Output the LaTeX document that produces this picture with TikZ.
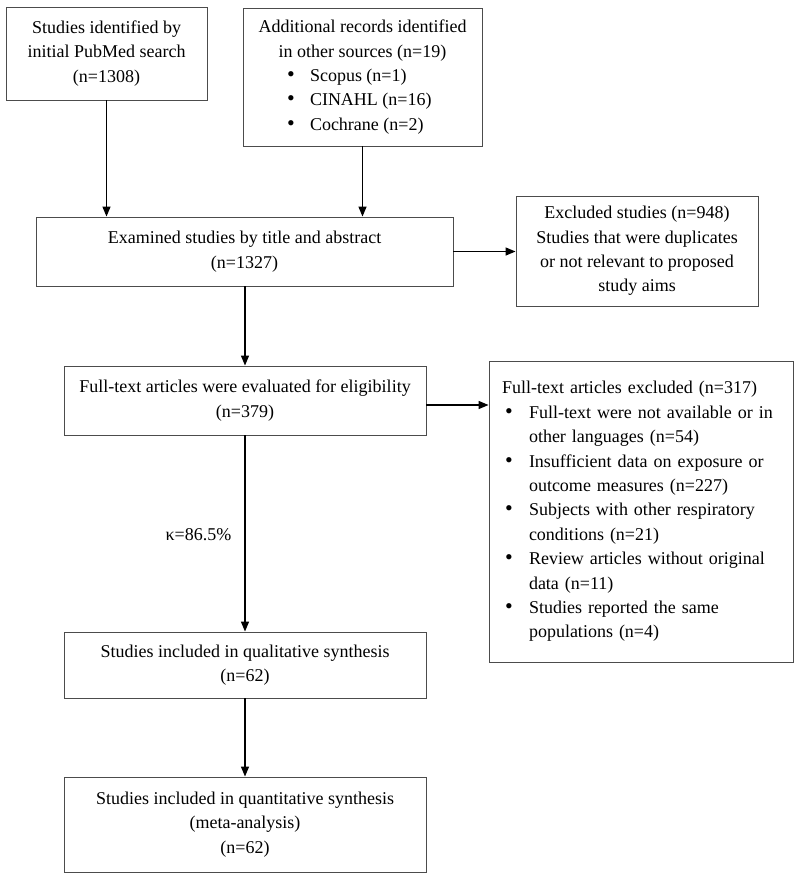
\documentclass[tikz,border=0pt]{standalone}
\usepackage{fontspec}
\setmainfont{Liberation Serif}
\usetikzlibrary{arrows.meta}
\newcommand{\bigbul}{{\fontsize{22pt}{22pt}\selectfont\textbullet}}
\begin{document}
\begin{tikzpicture}[x=1pt,y=-1pt,
  box/.style={draw=black!70, line width=0.9pt, inner sep=0pt, align=center,
    font=\fontsize{18pt}{24.4pt}\selectfont},
  lbl/.style={inner sep=0pt, font=\fontsize{18pt}{24.4pt}\selectfont},
  conn/.style={line width=1.3pt, -{Triangle[length=10pt,width=8pt]}}]
\useasboundingbox[fill=white] (0,0) rectangle (800,879);

\node[box, minimum width=201pt, minimum height=93pt] (b1) at (106.5,53.5)
  {Studies identified by\\initial PubMed search\\(n=1308)};

\node[box, minimum width=239pt, minimum height=138pt] (b2) at (362.5,77)
  {Additional records identified\\in other sources (n=19)\\
   \makebox[151pt][l]{\makebox[23pt][l]{\bigbul}Scopus (n=1)}\\
   \makebox[151pt][l]{\makebox[23pt][l]{\bigbul}CINAHL (n=16)}\\
   \makebox[151pt][l]{\makebox[23pt][l]{\bigbul}Cochrane (n=2)}};

\node[box, minimum width=417pt, minimum height=69pt] (b3) at (244.5,251.5)
  {Examined studies by title and abstract\\(n=1327)};

\node[box, minimum width=242pt, minimum height=110pt] (b4) at (637,251)
  {Excluded studies (n=948)\\Studies that were duplicates\\or not relevant to proposed\\study aims};

\node[box, minimum width=362pt, minimum height=69pt] (b5) at (245,400.5)
  {Full-text articles were evaluated for eligibility\\(n=379)};

\node[box, align=left, text width=278pt, inner xsep=13pt, minimum height=301pt] (b6) at (641,511.5)
  {Full-text articles excluded (n=317)\\
   \hspace*{3pt}\makebox[24pt][l]{\bigbul}Full-text were not available or in\\
   \hspace*{27pt}other languages (n=54)\\
   \hspace*{3pt}\makebox[24pt][l]{\bigbul}Insufficient data on exposure or\\
   \hspace*{27pt}outcome measures (n=227)\\
   \hspace*{3pt}\makebox[24pt][l]{\bigbul}Subjects with other respiratory\\
   \hspace*{27pt}conditions (n=21)\\
   \hspace*{3pt}\makebox[24pt][l]{\bigbul}Review articles without original\\
   \hspace*{27pt}data (n=11)\\
   \hspace*{3pt}\makebox[24pt][l]{\bigbul}Studies reported the same\\
   \hspace*{27pt}populations (n=4)};

\node[box, minimum width=362pt, minimum height=66pt] (b7) at (245,665)
  {Studies included in qualitative synthesis\\(n=62)};

\node[box, minimum width=362pt, minimum height=95pt] (b8) at (245,824.5)
  {Studies included in quantitative synthesis\\(meta-analysis)\\(n=62)};

\node[lbl] (kap) at (198.5,535) {κ=86.5\%};

\draw[conn] (b1.south) -- (b1.south |- b3.north);
\draw[conn] (b2.south) -- (b2.south |- b3.north);
\draw[conn] (b3.east) -- (b3.east -| b4.west);
\draw[conn] (b5.north |- b3.south) -- (b5.north);
\draw[conn] ([yshift=-4.5pt]b5.east) -- ([yshift=-4.5pt]b5.east -| b6.west);
\draw[conn] (b5.south) -- (b7.north);
\draw[conn] (b7.south) -- (b8.north);
\end{tikzpicture}
\end{document}
